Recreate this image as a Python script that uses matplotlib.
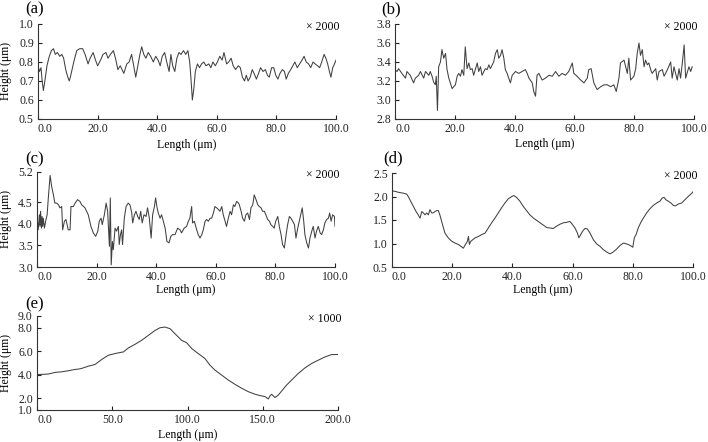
import matplotlib
matplotlib.use("Agg")
import matplotlib.pyplot as plt

plt.rcParams['font.family'] = ['Liberation Serif', 'DejaVu Serif']

# (a) profile
a_x = [0.0, 0.5, 1.0, 1.4, 1.8, 2.3, 3.0, 3.8, 4.5, 5.2, 5.8, 6.5, 7.3, 8.0, 8.6, 9.3, 10.0, 10.5, 11.0, 12.0,
       13.0, 14.0, 15.0, 15.8, 16.8, 17.5, 18.5, 19.3, 20.0, 21.0, 21.8, 22.8, 23.5, 24.3, 25.3, 26.0, 26.8, 27.6,
       28.8, 29.8, 30.6, 31.4, 32.0, 32.8, 33.5, 34.2, 34.8, 35.5, 36.2, 37.0, 37.8, 38.7, 39.5, 40.3, 41.0, 41.7,
       42.5, 43.2, 44.0, 44.6, 45.2, 45.9, 46.6, 47.3, 48.0, 48.8, 49.6, 50.3, 50.9, 51.3, 51.8, 52.3, 52.8, 53.5,
       54.2, 54.9, 55.6, 56.4, 57.3, 58.0, 58.7, 59.5, 60.2, 61.0, 61.8, 62.4, 63.3, 64.0, 64.8, 65.5, 66.3, 67.2,
       67.9, 68.6, 69.3, 69.9, 70.5, 71.2, 71.9, 72.5, 73.3, 74.0, 74.7, 75.5, 76.3, 77.0, 77.6, 78.4, 79.1, 79.8,
       80.5, 81.2, 82.0, 82.7, 83.3, 84.0, 84.8, 85.5, 86.2, 87.0, 87.8, 88.6, 89.3, 90.0, 90.8, 91.5, 92.3, 93.0,
       93.8, 94.5, 95.2, 96.0, 96.6, 97.2, 97.8, 98.3, 98.9, 99.5, 100.0]
a_y = [0.78, 0.75, 0.77, 0.70, 0.65, 0.70, 0.78, 0.83, 0.86, 0.87, 0.84, 0.85, 0.83, 0.84, 0.82, 0.76, 0.72, 0.70, 0.73, 0.80,
       0.86, 0.87, 0.87, 0.84, 0.79, 0.82, 0.85, 0.81, 0.78, 0.81, 0.84, 0.85, 0.82, 0.84, 0.86, 0.82, 0.76, 0.78,
       0.74, 0.79, 0.80, 0.84, 0.79, 0.72, 0.78, 0.84, 0.88, 0.84, 0.82, 0.85, 0.83, 0.80, 0.83, 0.81, 0.78, 0.83,
       0.85, 0.80, 0.75, 0.84, 0.78, 0.75, 0.82, 0.85, 0.84, 0.86, 0.84, 0.86, 0.80, 0.72, 0.60, 0.66, 0.75, 0.79,
       0.77, 0.79, 0.80, 0.78, 0.79, 0.77, 0.80, 0.78, 0.80, 0.83, 0.81, 0.85, 0.79, 0.80, 0.82, 0.78, 0.76, 0.78,
       0.77, 0.72, 0.70, 0.73, 0.70, 0.72, 0.76, 0.74, 0.71, 0.74, 0.77, 0.75, 0.76, 0.73, 0.72, 0.77, 0.77, 0.73,
       0.71, 0.74, 0.76, 0.75, 0.71, 0.74, 0.76, 0.78, 0.80, 0.77, 0.79, 0.81, 0.83, 0.80, 0.79, 0.77, 0.80, 0.79,
       0.78, 0.77, 0.80, 0.84, 0.82, 0.79, 0.75, 0.72, 0.77, 0.79, 0.81]

# (b) profile
b_x = [0.0, 0.7, 1.2, 2.3, 3.5, 4.0, 5.1, 6.2, 6.8, 7.9, 8.5, 9.6, 10.2, 11.3, 11.8, 12.4, 12.9, 13.5, 13.8, 14.2,
       14.6, 15.2, 15.7, 16.3, 16.9, 17.4, 18.0, 19.1, 20.2, 20.8, 21.3, 21.9, 22.4, 23.0, 23.5, 24.1, 24.7, 25.2,
       25.8, 26.3, 27.5, 28.0, 28.6, 29.1, 30.2, 30.8, 31.4, 31.9, 33.0, 33.6, 34.2, 34.7, 35.3, 35.8, 36.4, 36.9,
       37.5, 38.6, 39.2, 40.3, 41.4, 42.5, 43.6, 44.2, 44.8, 45.9, 46.4, 47.0, 47.5, 48.1, 49.2, 50.3, 51.5, 52.6,
       53.7, 54.8, 55.9, 57.0, 58.1, 59.3, 59.8, 60.9, 62.1, 63.2, 64.3, 64.8, 65.6, 66.5, 67.6, 68.8, 69.9, 71.0,
       72.1, 73.2, 74.0, 74.9, 75.4, 76.6, 77.7, 78.2, 78.8, 79.9, 80.5, 81.0, 81.6, 82.1, 82.7, 83.3, 83.8, 84.4,
       84.9, 85.5, 86.0, 87.2, 87.7, 88.3, 89.4, 90.0, 91.1, 92.2, 92.7, 93.3, 94.4, 95.0, 95.5, 96.1, 96.7, 97.2,
       98.3, 98.9, 99.4]
b_y = [3.32, 3.30, 3.33, 3.28, 3.23, 3.30, 3.26, 3.18, 3.23, 3.26, 3.30, 3.23, 3.30, 3.26, 3.30, 3.25, 3.19, 3.16, 3.25, 2.89,
       3.35, 3.40, 3.53, 3.44, 3.49, 3.32, 3.23, 3.12, 3.16, 3.25, 3.28, 3.25, 3.32, 3.26, 3.56, 3.33, 3.39, 3.32,
       3.33, 3.26, 3.39, 3.30, 3.35, 3.26, 3.33, 3.32, 3.37, 3.33, 3.40, 3.49, 3.53, 3.44, 3.47, 3.53, 3.44, 3.32,
       3.28, 3.18, 3.26, 3.30, 3.28, 3.30, 3.32, 3.28, 3.23, 3.18, 3.09, 3.04, 3.26, 3.28, 3.21, 3.23, 3.26, 3.25,
       3.30, 3.25, 3.28, 3.26, 3.30, 3.39, 3.28, 3.25, 3.21, 3.18, 3.23, 3.32, 3.33, 3.18, 3.11, 3.14, 3.16, 3.16,
       3.14, 3.16, 3.09, 3.23, 3.39, 3.42, 3.28, 3.44, 3.21, 3.25, 3.33, 3.49, 3.60, 3.47, 3.53, 3.35, 3.42, 3.37,
       3.39, 3.32, 3.28, 3.33, 3.21, 3.30, 3.32, 3.25, 3.32, 3.40, 3.23, 3.35, 3.21, 3.33, 3.23, 3.39, 3.58, 3.23,
       3.35, 3.30, 3.35]

# (c) profile
c_x = [0.0, 0.2, 0.4, 0.8, 1.0, 1.2, 1.5, 1.7, 1.9, 2.1, 2.5, 2.9, 3.4, 3.8, 4.4, 4.9, 5.5, 6.0, 6.6, 7.2,
       7.7, 8.3, 8.6, 9.2, 9.7, 10.5, 11.1, 11.4, 12.2, 12.8, 13.6, 14.4, 15.0, 16.1, 17.2, 18.1, 18.9, 19.7, 20.4,
       20.9, 21.5, 21.9, 22.6, 23.2, 23.7, 24.3, 24.6, 24.9, 25.3, 25.6, 26.2, 26.7, 27.3, 27.6, 28.0, 28.4, 28.7,
       29.3, 29.9, 30.6, 31.2, 31.8, 32.1, 32.7, 33.2, 33.8, 34.3, 34.8, 35.3, 35.9, 36.6, 37.1, 37.7, 38.3, 38.8,
       39.4, 39.8, 40.3, 40.7, 41.3, 41.8, 42.4, 43.0, 43.6, 44.3, 44.9, 45.5, 46.3, 47.2, 48.0, 48.5, 49.4, 50.2,
       50.8, 51.3, 51.9, 52.2, 52.8, 53.6, 54.1, 54.7, 55.3, 55.8, 56.4, 56.9, 57.5, 58.1, 58.6, 59.2, 59.7, 60.3,
       60.9, 61.4, 62.0, 62.5, 63.1, 63.6, 64.2, 64.8, 65.3, 65.9, 66.4, 67.0, 67.6, 67.9, 68.5, 69.0, 69.6, 70.1,
       70.7, 71.3, 71.8, 72.4, 72.9, 73.5, 74.1, 74.6, 75.2, 75.7, 76.3, 76.8, 77.4, 78.0, 78.5, 79.1, 79.6, 80.1,
       80.8, 81.3, 81.9, 82.4, 83.0, 83.6, 84.1, 84.7, 85.2, 85.8, 86.4, 86.9, 87.5, 88.0, 88.5, 89.0, 89.5, 89.9,
       90.5, 91.1, 91.6, 92.2, 92.7, 93.3, 93.8, 94.4, 95.0, 95.5, 96.1, 96.6, 97.2, 97.8, 98.2, 98.7, 99.2, 99.8,
       100.0]
c_y = [3.94, 4.02, 3.86, 4.21, 3.94, 4.29, 3.90, 4.17, 3.94, 4.13, 3.90, 4.06, 4.21, 4.60, 5.12, 4.87, 4.67, 4.48, 4.48, 4.44,
       4.37, 4.40, 3.86, 4.06, 4.10, 3.86, 3.86, 4.40, 4.40, 4.48, 4.56, 4.52, 4.44, 4.37, 4.21, 3.94, 3.79, 3.71, 3.83,
       4.06, 4.13, 3.98, 4.21, 4.48, 4.29, 3.48, 4.60, 3.05, 3.59, 3.40, 3.90, 3.83, 3.94, 3.52, 3.75, 3.86, 3.52,
       4.13, 4.40, 4.48, 4.44, 4.25, 4.02, 4.21, 4.29, 4.17, 4.10, 4.29, 4.02, 4.21, 4.17, 4.37, 4.13, 3.67, 4.21,
       4.40, 4.60, 4.37, 4.25, 4.13, 4.21, 4.06, 3.90, 3.59, 3.56, 3.71, 3.75, 3.75, 3.90, 3.86, 3.79, 3.90, 3.94,
       4.06, 4.13, 4.40, 4.02, 4.06, 3.86, 3.75, 3.67, 3.75, 3.86, 4.06, 4.10, 4.06, 4.13, 4.13, 4.25, 4.40, 4.37,
       4.33, 4.29, 4.40, 4.21, 4.06, 3.94, 4.13, 4.29, 4.21, 4.44, 4.40, 4.52, 4.48, 4.44, 4.29, 4.13, 4.06, 4.21,
       4.25, 4.10, 4.37, 4.44, 4.67, 4.56, 4.44, 4.40, 4.37, 4.29, 4.29, 4.21, 4.10, 4.06, 3.98, 3.94, 3.90, 4.06,
       4.17, 3.94, 3.75, 3.52, 3.44, 3.75, 3.98, 4.17, 4.13, 4.06, 3.98, 3.67, 3.90, 4.06, 4.21, 4.37, 4.06, 3.75,
       3.56, 3.44, 3.67, 3.83, 3.94, 3.67, 3.83, 3.94, 3.79, 3.75, 3.86, 4.02, 4.10, 4.13, 4.25, 4.06, 4.21, 4.17,
       3.94]

# (d) profile
d_x = [0.0, 1.0, 2.1, 3.8, 4.9, 5.4, 6.2, 7.1, 8.0, 8.7, 9.3, 9.9, 10.4, 11.0, 11.5, 12.1, 12.6, 13.2, 13.7, 14.3,
       14.8, 15.4, 15.9, 16.5, 17.1, 17.6, 18.7, 19.8, 20.9, 22.0, 23.1, 23.7, 24.3, 25.0, 25.4, 25.7, 26.1, 26.8,
       27.6, 28.7, 29.8, 30.9, 32.0, 33.1, 34.2, 35.3, 36.4, 37.5, 38.6, 39.8, 40.5, 41.4, 42.5, 43.6, 44.7, 45.8,
       47.0, 48.1, 49.2, 50.3, 51.4, 52.5, 53.6, 54.7, 55.8, 56.9, 58.0, 59.1, 60.0, 60.8, 61.6, 62.1, 62.7, 63.3,
       64.1, 64.9, 65.8, 66.9, 68.0, 69.1, 70.2, 71.3, 72.4, 73.5, 74.6, 75.8, 76.9, 78.0, 79.1, 80.0, 80.5, 81.1,
       81.8, 82.6, 83.5, 84.6, 85.7, 86.8, 87.9, 89.0, 89.8, 90.4, 91.0, 91.8, 92.7, 93.5, 94.2, 95.1, 96.2, 97.3,
       98.4, 99.6, 100.0]
d_y = [2.12, 2.11, 2.09, 2.07, 2.05, 2.00, 1.90, 1.79, 1.68, 1.61, 1.54, 1.68, 1.65, 1.61, 1.65, 1.61, 1.72, 1.65, 1.65, 1.68,
       1.70, 1.70, 1.61, 1.47, 1.33, 1.22, 1.12, 1.05, 1.01, 0.98, 0.93, 0.90, 0.97, 1.04, 1.15, 0.98, 1.04, 1.08,
       1.12, 1.15, 1.19, 1.22, 1.33, 1.44, 1.54, 1.65, 1.76, 1.86, 1.95, 2.00, 2.02, 1.98, 1.90, 1.79, 1.70, 1.61,
       1.54, 1.49, 1.44, 1.39, 1.34, 1.33, 1.32, 1.37, 1.41, 1.44, 1.45, 1.47, 1.40, 1.33, 1.22, 1.12, 1.19, 1.26,
       1.32, 1.31, 1.22, 1.08, 0.99, 0.94, 0.87, 0.82, 0.78, 0.82, 0.88, 0.96, 1.01, 0.99, 0.96, 0.92, 1.12, 1.19,
       1.33, 1.44, 1.54, 1.65, 1.74, 1.81, 1.86, 1.90, 1.97, 1.98, 1.93, 1.90, 1.86, 1.81, 1.80, 1.84, 1.86, 1.93,
       2.00, 2.07, 2.10]

# (e) profile
e_x = [0.0, 3.1, 7.5, 12.0, 16.4, 20.8, 25.2, 27.5, 29.7, 34.1, 38.5, 43.0, 47.4, 51.8, 55.1, 57.4, 60.7, 65.1, 69.5, 74.0,
       78.4, 81.7, 85.0, 88.4, 91.7, 96.1, 99.4, 102.8, 107.2, 111.6, 114.9, 118.3, 122.7, 127.1, 131.6, 136.0, 140.4,
       144.9, 148.2, 151.5, 153.7, 154.8, 155.9, 157.0, 158.1, 160.4, 162.6, 165.9, 169.2, 173.6, 178.1, 182.5,
       186.9, 191.4, 195.8, 200.0]
e_y = [4.03, 4.03, 4.06, 4.20, 4.25, 4.34, 4.45, 4.48, 4.54, 4.73, 4.87, 5.30, 5.66, 5.80, 5.89, 5.94, 6.28, 6.59, 6.93, 7.35,
       7.77, 8.00, 8.06, 7.92, 7.49, 6.93, 6.73, 6.23, 5.80, 5.38, 4.82, 4.39, 3.97, 3.55, 3.18, 2.85, 2.56,
       2.34, 2.23, 2.14, 1.94, 2.20, 2.34, 2.20, 2.06, 2.28, 2.62, 3.13, 3.55, 4.11, 4.59, 4.96,
       5.24, 5.52, 5.72, 5.72]

panels = [
    ("(a)", a_x, a_y, (0.5, 1.0), [0.5, 0.6, 0.7, 0.8, 0.9, 1.0], 20, "× 2000", True),
    ("(b)", b_x, b_y, (2.8, 3.8), [2.8, 3.0, 3.2, 3.4, 3.6, 3.8], 20, "× 2000", False),
    ("(c)", c_x, c_y, (3.0, 5.2), [3.0, 3.5, 4.0, 4.5, 5.2], 20, "× 2000", True),
    ("(d)", d_x, d_y, (0.5, 2.5), [0.5, 1.0, 1.5, 2.0, 2.5], 20, "× 2000", False),
    ("(e)", e_x, e_y, (1.0, 9.0), [1.0, 2.0, 4.0, 6.0, 8.0, 9.0], 50, "× 1000", True),
]

# axes boxes in pixels: left, top, right, bottom
boxes = [(38, 24, 336, 119), (395, 24, 694, 119),
         (37, 172, 335, 267), (392, 173, 693, 267),
         (37, 316, 338, 410)]
xlab_off = [-0.21, -0.20, -0.18, -0.18, -0.20]
tag_pos = [(25, 9), (381, 9), (25, 159), (383, 158), (25, 304)]

W, H = 708, 442
fig = plt.figure(figsize=(W / 100, H / 100), dpi=100)

for (tag, xs, ys, ylim, yt, xstep, mag, ylab), (l, t, r, b), xo, (tx, ty) in zip(panels, boxes, xlab_off, tag_pos):
    ax = fig.add_axes([l / W, 1 - b / H, (r - l) / W, (b - t) / H])
    ax.plot(xs, ys, color='#404040', lw=0.75)
    xmax = xstep * 5 if xstep == 20 else xstep * 4
    ax.set_xlim(0, xmax)
    ax.set_ylim(*ylim)
    xt = list(range(0, xmax + 1, xstep))
    ax.set_xticks(xt)
    ax.set_xticklabels([f"{v:.1f}" for v in xt])
    ax.get_xticklabels()[0].set_horizontalalignment('left')
    ax.set_yticks(yt)
    ax.set_yticklabels([f"{v:.1f}" for v in yt])
    for s in ['top', 'right']:
        ax.spines[s].set_visible(False)
    for s in ['left', 'bottom']:
        ax.spines[s].set_linewidth(0.8)
        ax.spines[s].set_color('#333333')
    ax.tick_params(direction='in', length=3, width=0.8, labelsize=8.5, pad=3, colors='#222222')
    ax.set_xlabel("Length (μm)", fontsize=8.5)
    ax.xaxis.set_label_coords(0.5, xo)
    if ylab:
        ax.set_ylabel("Height (μm)", fontsize=8.5)
        ax.yaxis.set_label_coords((12 - l) / (r - l), 0.5)
    fig.text(tx / W, 1 - ty / H, tag, fontsize=12, ha='left', va='center')
    fig.text((r + 4) / W, 1 - (t + 3) / H, mag, fontsize=8.5, ha='right', va='center')

fig.savefig("out.png", dpi=100)
